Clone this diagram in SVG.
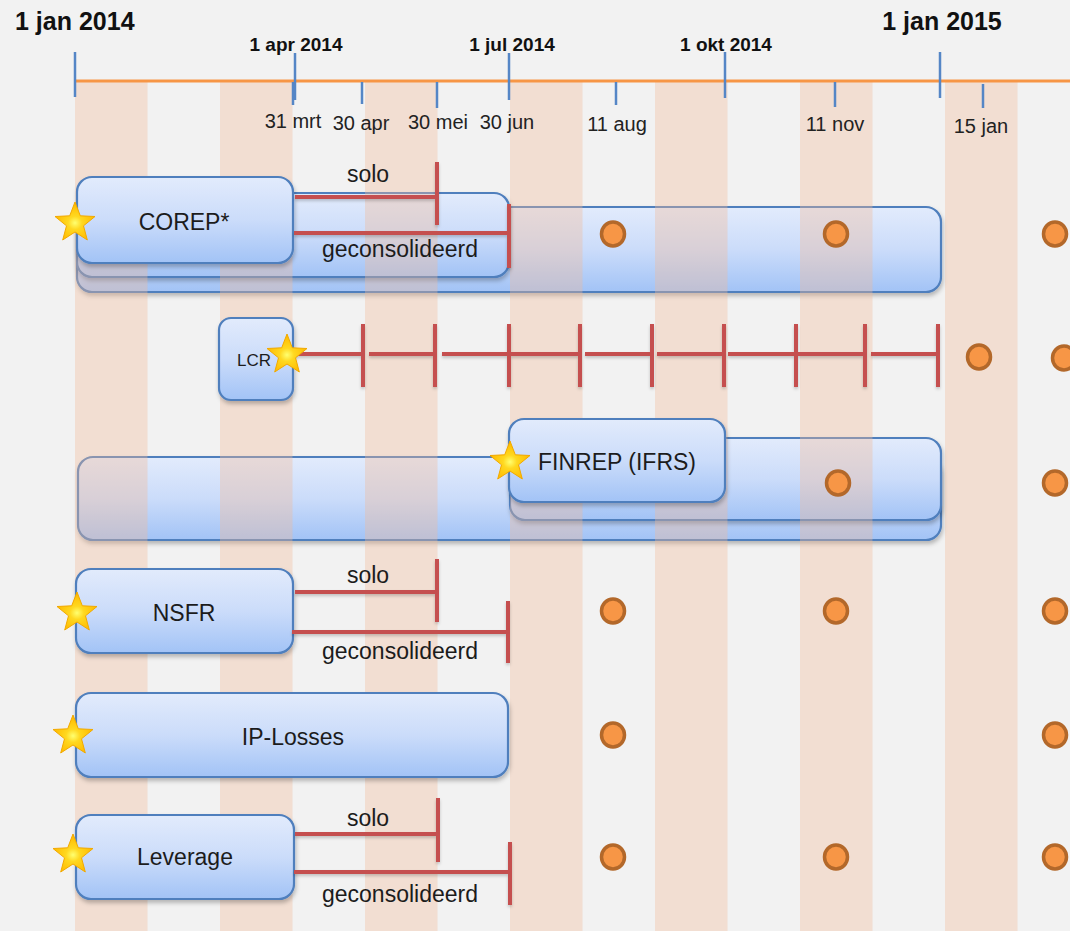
<svg xmlns="http://www.w3.org/2000/svg" xmlns:xlink="http://www.w3.org/1999/xlink" width="1070" height="931" viewBox="0 0 1070 931">
<defs>
<linearGradient id="boxg" x1="0" y1="0" x2="0" y2="1">
<stop offset="0" stop-color="#e2ebfc"/>
<stop offset="0.5" stop-color="#cbdcfa"/>
<stop offset="1" stop-color="#a2c3f6"/>
</linearGradient>
<radialGradient id="starg" cx="0.5" cy="0.55" r="0.5">
<stop offset="0" stop-color="#ffff70"/>
<stop offset="0.35" stop-color="#ffd820"/>
<stop offset="1" stop-color="#ffbb00"/>
</radialGradient>
<filter id="sh" x="-10%" y="-20%" width="120%" height="150%">
<feDropShadow dx="1" dy="3" stdDeviation="2" flood-color="#000" flood-opacity="0.25"/>
</filter>
<filter id="lsh" x="-10%" y="-50%" width="120%" height="200%">
<feDropShadow dx="0" dy="2" stdDeviation="1.5" flood-color="#000" flood-opacity="0.2"/>
</filter>
<path id="star" d="M0,-21 L5.3,-7.2 L20,-6.5 L8.5,2.8 L12.3,17 L0,9 L-12.3,17 L-8.5,2.8 L-20,-6.5 L-5.3,-7.2 Z"/>
<style>
.box{fill:url(#boxg);stroke:#4f7fbd;stroke-width:2.2;filter:url(#sh)}
.stripe{fill:rgb(240,187,153);fill-opacity:0.36}
.tick{stroke:#5586c6;stroke-width:2.5;fill:none}
.red{stroke:#c5504f;stroke-width:4;fill:none}
.dot{fill:#f79646;stroke:#b3682a;stroke-width:3.5}
.st{fill:url(#starg);stroke:#f2a900;stroke-width:1}
text{font-family:"Liberation Sans",Arial,sans-serif;fill:#1c1c1c}
.big{font-size:25px;font-weight:bold;fill:#111}
.mid{font-size:19px;font-weight:bold;fill:#111;text-anchor:middle}
.min{font-size:20px;fill:#222;text-anchor:middle}
.lbl{font-size:23px;text-anchor:middle}
.sm{font-size:17px;text-anchor:middle}
</style>
</defs>
<rect x="0" y="0" width="1070" height="931" fill="#f2f2f2"/>
<g id="corep-periods">
<rect class="box" x="77" y="207" width="864" height="85" rx="15"/>
<rect class="box" x="77" y="193" width="432" height="84" rx="15"/>
</g>
<g id="finrep-periods">
<rect class="box" x="78" y="457" width="863" height="83" rx="15"/>
<rect class="box" x="510" y="438" width="431" height="82" rx="15"/>
</g>
<g id="stripes">
<rect class="stripe" x="75" y="82" width="72.5" height="849"/>
<rect class="stripe" x="220" y="82" width="72.5" height="849"/>
<rect class="stripe" x="365" y="82" width="72.5" height="849"/>
<rect class="stripe" x="510" y="82" width="72.5" height="849"/>
<rect class="stripe" x="655" y="82" width="72.5" height="849"/>
<rect class="stripe" x="800" y="82" width="72.5" height="849"/>
<rect class="stripe" x="945" y="82" width="72.5" height="849"/>
</g>
<g id="timeline">
<line x1="75" y1="81" x2="1070" y2="81" stroke="#f79646" stroke-width="3"/>
<line class="tick" x1="75" y1="52" x2="75" y2="97"/>
<line class="tick" x1="295" y1="53" x2="295" y2="100"/>
<line class="tick" x1="293" y1="82" x2="293" y2="105"/>
<line class="tick" x1="362" y1="82" x2="362" y2="104"/>
<line class="tick" x1="437" y1="82" x2="437" y2="108"/>
<line class="tick" x1="509" y1="53" x2="509" y2="100"/>
<line class="tick" x1="616" y1="82" x2="616" y2="105"/>
<line class="tick" x1="725" y1="52" x2="725" y2="98"/>
<line class="tick" x1="835" y1="82" x2="835" y2="107"/>
<line class="tick" x1="940" y1="52" x2="940" y2="98"/>
<line class="tick" x1="983" y1="84" x2="983" y2="108"/>
<text class="big" x="15" y="30">1 jan 2014</text>
<text class="big" x="942" y="30" text-anchor="middle">1 jan 2015</text>
<text class="mid" x="296" y="51">1 apr 2014</text>
<text class="mid" x="512" y="51">1 jul 2014</text>
<text class="mid" x="726" y="51">1 okt 2014</text>
<text class="min" x="293" y="128">31 mrt</text>
<text class="min" x="361" y="130">30 apr</text>
<text class="min" x="438" y="129">30 mei</text>
<text class="min" x="507" y="129">30 jun</text>
<text class="min" x="617" y="131">11 aug</text>
<text class="min" x="835" y="131">11 nov</text>
<text class="min" x="981" y="133">15 jan</text>
</g>
<g id="corep">
<rect class="box" x="77" y="177" width="216" height="86" rx="15"/>
<text class="lbl" x="184" y="230">COREP*</text>
</g>
<g id="lcr">
<rect class="box" x="219" y="318" width="74" height="82" rx="12"/>
<text class="sm" x="254" y="366">LCR</text>
</g>
<g id="finrep">
<rect class="box" x="509" y="419" width="216" height="83" rx="15"/>
<text class="lbl" x="617" y="470">FINREP (IFRS)</text>
</g>
<g id="nsfr">
<rect class="box" x="76" y="569" width="217" height="84" rx="15"/>
<text class="lbl" x="184" y="621">NSFR</text>
</g>
<g id="ip-losses">
<rect class="box" x="76" y="693" width="432" height="84" rx="15"/>
<text class="lbl" x="293" y="745">IP-Losses</text>
</g>
<g id="leverage">
<rect class="box" x="76" y="815" width="218" height="84" rx="15"/>
<text class="lbl" x="185" y="865">Leverage</text>
</g>
<g id="connectors" filter="url(#lsh)">
<path class="red" d="M295,197 H437 M437,162 V225"/>
<path class="red" d="M294,233 H509 M509,204 V268"/>
<path class="red" d="M293,354 H363 M363,324 V387 M369,354 H435 M435,324 V387 M442,354 H580 M509,324 V387 M580,324 V387 M585,354 H652 M652,324 V387 M657,354 H724 M724,324 V387 M728,354 H865 M796,324 V387 M865,324 V387 M871,354 H938 M938,324 V387"/>
<path class="red" d="M295,592 H437 M437,559 V622"/>
<path class="red" d="M292,632 H508 M508,601 V663"/>
<path class="red" d="M295,834 H438 M438,798 V862"/>
<path class="red" d="M294,872 H510 M510,842 V905"/>
</g>
<g id="connector-labels">
<text class="lbl" x="368" y="182">solo</text>
<text class="lbl" x="400" y="257">geconsolideerd</text>
<text class="lbl" x="368" y="583">solo</text>
<text class="lbl" x="400" y="659">geconsolideerd</text>
<text class="lbl" x="368" y="826">solo</text>
<text class="lbl" x="400" y="902">geconsolideerd</text>
</g>
<g id="milestones">
<ellipse class="dot" cx="613" cy="234" rx="11.5" ry="12"/>
<ellipse class="dot" cx="836" cy="234" rx="11.5" ry="12"/>
<ellipse class="dot" cx="1055" cy="234" rx="11.5" ry="12"/>
<ellipse class="dot" cx="979" cy="357" rx="11.5" ry="12"/>
<ellipse class="dot" cx="1064" cy="358" rx="11.5" ry="12"/>
<ellipse class="dot" cx="838" cy="483" rx="11.5" ry="12"/>
<ellipse class="dot" cx="1055" cy="483" rx="11.5" ry="12"/>
<ellipse class="dot" cx="613" cy="611" rx="11.5" ry="12"/>
<ellipse class="dot" cx="836" cy="611" rx="11.5" ry="12"/>
<ellipse class="dot" cx="1055" cy="611" rx="11.5" ry="12"/>
<ellipse class="dot" cx="613" cy="735" rx="11.5" ry="12"/>
<ellipse class="dot" cx="1055" cy="735" rx="11.5" ry="12"/>
<ellipse class="dot" cx="613" cy="857" rx="11.5" ry="12"/>
<ellipse class="dot" cx="836" cy="857" rx="11.5" ry="12"/>
<ellipse class="dot" cx="1055" cy="857" rx="11.5" ry="12"/>
</g>
<g id="stars">
<use class="st" xlink:href="#star" x="75" y="223"/>
<use class="st" xlink:href="#star" x="287" y="355"/>
<use class="st" xlink:href="#star" x="510" y="462"/>
<use class="st" xlink:href="#star" x="77" y="613"/>
<use class="st" xlink:href="#star" x="73" y="736"/>
<use class="st" xlink:href="#star" x="73" y="855"/>
</g>
</svg>
